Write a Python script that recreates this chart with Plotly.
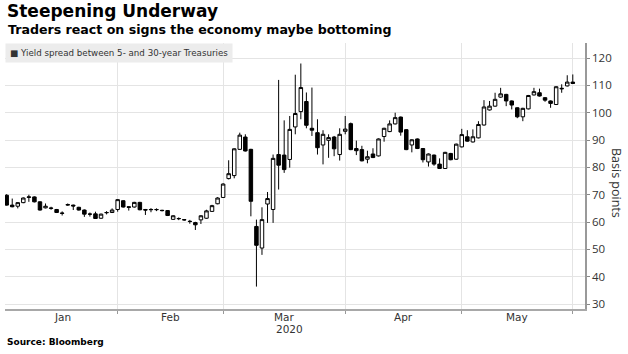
import pandas as pd
import plotly.graph_objects as go

# ---- data ----
holidays = ["2020-01-20", "2020-02-17", "2020-04-10", "2020-05-25"]
dates = [d.strftime("%Y-%m-%d") for d in pd.bdate_range("2020-01-03", "2020-06-01")
         if d.strftime("%Y-%m-%d") not in holidays]

open_ = [69.8, 66.2, 65.8, 67.1, 69.0, 69.2, 67.4, 65.2, 65.0, 64.6,
         63.3, 66.2, 66.2, 65.4, 64.4, 62.9, 63.0, 61.4, 63.4, 63.5,
         64.6, 67.8, 65.6, 65.5, 67.2, 64.6, 64.5, 64.5, 64.3, 64.2,
         61.0, 61.2, 60.9, 60.3, 59.8, 60.8, 61.4, 63.9, 66.7,
         69.0, 75.9, 77.0, 86.6, 91.1, 86.6, 58.4, 50.5, 66.6, 64.6,
         84.7, 84.5, 82.9, 94.8, 100.4, 104.1, 94.3, 92.7, 88.2, 89.9, 91.1, 84.7,
         93.2, 96.0, 86.9, 86.5, 83.0, 84.9, 84.2, 91.3, 93.1, 95.9,
         98.4, 93.8, 88.2, 90.4, 86.9, 82.0, 84.5, 81.2, 79.6, 85.1, 83.0,
         87.5, 91.2, 89.3, 90.8, 95.5, 101.0, 102.4, 105.7, 106.7, 104.3,
         101.8, 98.5, 101.4, 106.5, 107.3, 105.5, 104.3, 103.0, 108.7, 109.8, 111.2]
close = [66.2, 65.6, 67.1, 68.8, 69.2, 67.4, 64.4, 65.8, 65.1, 63.5,
         63.2, 66.4, 65.9, 64.4, 62.9, 62.9, 61.3, 62.9, 63.5, 64.4,
         68.2, 65.5, 65.4, 67.2, 64.5, 64.4, 64.6, 64.6, 64.2, 62.4,
         62.3, 61.3, 60.8, 60.2, 59.0, 62.3, 64.1, 66.0, 68.8,
         73.9, 77.7, 86.8, 91.8, 86.0, 67.6, 51.5, 60.9, 68.6, 83.3,
         80.8, 79.2, 93.9, 99.7, 109.2, 95.4, 93.6, 87.2, 92.1, 90.9, 86.8, 92.1,
         94.0, 86.5, 86.1, 82.4, 83.9, 83.6, 90.4, 94.3, 95.9, 98.2,
         92.9, 86.5, 90.1, 86.9, 82.8, 84.9, 81.2, 79.6, 85.5, 82.8, 88.5,
         92.0, 89.6, 91.2, 95.7, 102.1, 102.4, 104.9, 106.9, 104.3, 102.8,
         98.5, 101.6, 106.3, 107.7, 106.1, 104.6, 103.4, 109.5, 108.9, 111.2, 110.7]
high = [70.2, 68.6, 67.3, 69.0, 70.0, 69.4, 67.6, 66.8, 65.6, 64.8,
        63.9, 66.8, 66.4, 65.6, 64.6, 63.5, 63.8, 63.1, 64.0, 65.0,
        68.4, 68.0, 65.8, 67.4, 67.4, 64.8, 65.1, 65.0, 64.5, 64.4,
        62.5, 61.7, 61.1, 60.8, 60.1, 62.5, 64.5, 66.3, 69.1,
        74.2, 82.6, 87.0, 92.7, 92.1, 86.8, 60.9, 65.4, 71.0, 84.7,
        112.0, 97.2, 98.8, 113.9, 118.0, 107.4, 109.2, 97.6, 93.6, 92.1, 91.5, 94.3,
        98.8, 96.4, 89.8, 87.9, 86.1, 87.0, 90.6, 94.5, 97.2, 100.0,
        98.6, 94.0, 90.3, 90.6, 87.1, 85.1, 84.7, 83.3, 85.7, 85.3, 88.7,
        94.1, 93.6, 93.9, 96.9, 104.6, 104.3, 107.3, 109.1, 106.9, 104.5,
        102.0, 101.8, 106.5, 109.1, 108.8, 105.7, 104.5, 109.7, 110.4, 113.7, 114.0]
low = [66.0, 65.4, 65.0, 66.9, 67.4, 67.2, 64.2, 65.0, 64.5, 63.3,
       62.4, 65.9, 64.4, 64.2, 61.9, 62.0, 61.2, 61.2, 62.8, 63.3,
       63.8, 65.3, 64.2, 65.3, 64.3, 62.6, 63.6, 64.0, 63.9, 62.2,
       60.8, 60.7, 60.5, 59.4, 57.1, 59.3, 61.2, 63.7, 66.5,
       68.8, 75.6, 76.0, 86.4, 85.8, 62.1, 36.4, 48.0, 59.7, 59.7,
       71.9, 78.0, 79.9, 92.1, 97.6, 94.3, 91.5, 84.7, 81.1, 83.5, 84.1, 82.5,
       92.1, 86.3, 84.5, 82.2, 81.5, 83.4, 84.0, 89.4, 92.9, 95.7,
       91.6, 86.3, 85.5, 86.7, 81.8, 80.3, 80.6, 79.4, 79.4, 82.6, 82.8,
       87.3, 89.4, 89.1, 90.6, 95.3, 100.8, 102.2, 105.5, 102.4, 101.2,
       98.0, 96.9, 101.2, 106.3, 105.9, 104.0, 101.8, 102.8, 107.3, 109.6, 110.5]

y_ticks = [30, 40, 50, 60, 70, 80, 90, 100, 110, 120]
month_labels = ["Jan", "Feb", "Mar", "Apr", "May"]
year_label = "2020"

title = "Steepening Underway"
subtitle = "Traders react on signs the economy maybe bottoming"
legend_text = "Yield spread between 5- and 30-year Treasuries"
source = "Source: Bloomberg"
y_title = "Basis points"

# month boundaries (first trading day of each month)
firsts = []
seen = set()
for i, d in enumerate(dates):
    m = d[:7]
    if m not in seen:
        seen.add(m)
        firsts.append(i)
boundary_vals = [dates[i] for i in firsts[1:]]
month_mid = [(firsts[k] + firsts[k + 1]) / 2 for k in range(len(month_labels))]

# ---- layout geometry ----
W, H = 628, 354
ML, MR, MT, MB = 5, 43, 43, 45
PH = H - MT - MB


def py(ypx):
    return (H - MB - ypx) / PH


FONT = "DejaVu Sans"
TICKFONT = "Open Sans"

fig = go.Figure(go.Candlestick(
    x=dates, open=open_, high=high, low=low, close=close,
    increasing=dict(fillcolor="white", line=dict(color="black", width=1)),
    decreasing=dict(fillcolor="black", line=dict(color="black", width=1)),
    whiskerwidth=0, showlegend=False, hoverinfo="skip",
))

ann = []
ann.append(dict(text="<b>" + title + "</b>", xref="paper", yref="paper", x=0, y=py(11.5),
                xanchor="left", yanchor="middle", showarrow=False, xshift=0,
                font=dict(family=FONT, size=17, color="#000")))
ann.append(dict(text="<b>" + subtitle + "</b>", xref="paper", yref="paper", x=0, y=py(30),
                xanchor="left", yanchor="middle", showarrow=False, xshift=1,
                font=dict(family=FONT, size=12.6, color="#000")))
ann.append(dict(text="■ " + legend_text, xref="paper", yref="paper", x=0, y=py(43),
                xanchor="left", yanchor="top", showarrow=False, bgcolor="#ececec",
                borderpad=4, font=dict(family=FONT, size=8.7, color="#333")))
for lab, xm in zip(month_labels, month_mid):
    ann.append(dict(text=lab, xref="x", yref="paper", x=xm, y=py(317),
                    xanchor="center", yanchor="middle", showarrow=False,
                    font=dict(family=FONT, size=10.5, color="#333")))
ann.append(dict(text=year_label, xref="x", yref="paper", x=month_mid[2] + 1, y=py(329),
                xanchor="center", yanchor="middle", showarrow=False,
                font=dict(family=FONT, size=10.5, color="#333")))
ann.append(dict(text="<b>" + source + "</b>", xref="paper", yref="paper", x=0, y=py(342),
                xanchor="left", yanchor="middle", showarrow=False,
                font=dict(family=FONT, size=9, color="#000")))
ann.append(dict(text=y_title, xref="paper", yref="paper", x=(617 - ML) / (W - ML - MR),
                y=py(183), xanchor="center", yanchor="middle", textangle=90, showarrow=False,
                font=dict(family=TICKFONT, size=12.5, color="#333")))

fig.update_layout(
    width=W, height=H, margin=dict(l=ML, r=MR, t=MT, b=MB),
    paper_bgcolor="white", plot_bgcolor="white",
    boxgap=0.1, boxgroupgap=0.3,
    annotations=ann,
    xaxis=dict(type="category", range=[-0.3, 104.2], rangeslider=dict(visible=False),
               tickmode="array", tickvals=boundary_vals, ticktext=[""] * len(boundary_vals),
               showgrid=True, gridcolor="#e4e4e4", gridwidth=1,
               ticks="outside", ticklen=3, tickcolor="#999",
               showline=True, linecolor="#a8a8a8", linewidth=2, zeroline=False,
               fixedrange=True),
    yaxis=dict(side="right", range=[28.2, 125.5], tickmode="array", tickvals=y_ticks,
               showgrid=True, gridcolor="#e4e4e4", gridwidth=1,
               ticks="outside", ticklen=3, tickcolor="#888",
               showline=True, linecolor="#999", linewidth=1.5, zeroline=False,
               tickfont=dict(family=TICKFONT, size=11.5, color="#333"), fixedrange=True),
)

fig.write_html("out.html")
